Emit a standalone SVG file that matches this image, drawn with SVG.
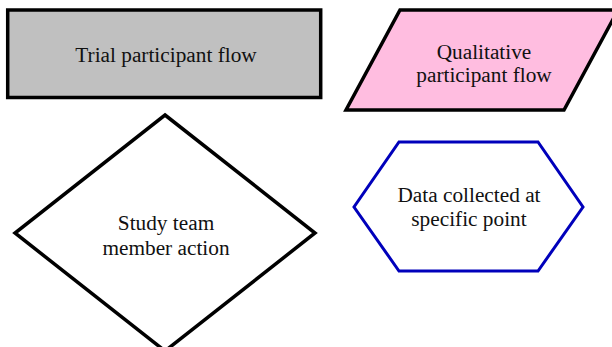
<svg xmlns="http://www.w3.org/2000/svg" width="612" height="347" viewBox="0 0 612 347">
<style>
.lbl{font-family:"Liberation Serif","Times New Roman",serif;font-size:21.3px;fill:#111;text-anchor:middle}
.blk{stroke:#000;stroke-width:3.5;stroke-linejoin:miter}
</style>
<rect width="612" height="347" fill="#fff"/>
<g id="trial">
<rect class="blk" x="7.7" y="10" width="313" height="87.5" fill="#c0c0c0"/>
<text class="lbl" x="166" y="62">Trial participant flow</text>
</g>
<g id="qualitative">
<polygon class="blk" points="400,10 618,10 564,110 346,110" fill="#ffbde0"/>
<text class="lbl" x="484" y="59">Qualitative</text>
<text class="lbl" x="484" y="82">participant flow</text>
</g>
<g id="action">
<polygon class="blk" points="165,115 315,233 165,351 15,233" fill="#fff" stroke-width="3"/>
<text class="lbl" x="166" y="230">Study team</text>
<text class="lbl" x="166" y="255">member action</text>
</g>
<g id="data">
<polygon points="399,142 538,142 583,207 538,271 399,271 354,207" fill="#fff" stroke="#0000bb" stroke-width="3"/>
<text class="lbl" x="469" y="202">Data collected at</text>
<text class="lbl" x="469" y="226">specific point</text>
</g>
<g id="connectors"></g>
</svg>
